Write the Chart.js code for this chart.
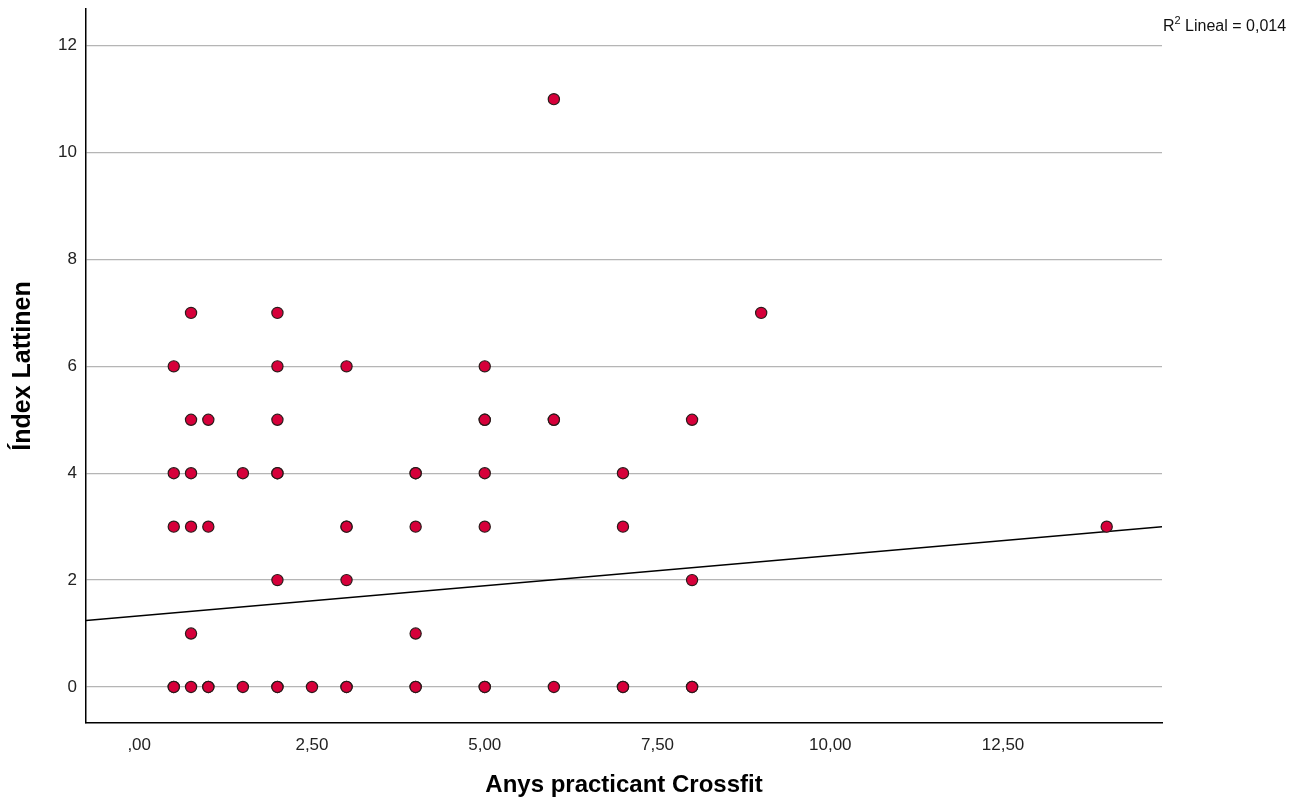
<!DOCTYPE html>
<html>
<head>
<meta charset="utf-8">
<script src="https://cdn.jsdelivr.net/npm/chart.js@4"></script>
<style>
    body { margin: 0; background: #fff; }
    #wrap { width: 1305px; height: 801px; position: relative; }
</style>
</head>
<body>
<div id="wrap"><canvas id="chart"></canvas></div>
<script>
    // Anys practicant Crossfit (x) vs Índex Lattinen (y)
    const anys = [
        0.5, 0.5, 0.5, 0.5, 0.5,
        0.75, 0.75, 0.75, 0.75, 0.75, 0.75,
        1, 1, 1, 1,
        1.5, 1.5,
        2, 2, 2, 2, 2, 2, 2, 2,
        2.5,
        3, 3, 3, 3, 3, 3,
        4, 4, 4, 4, 4, 4,
        5, 5, 5, 5, 5, 5, 5,
        6, 6, 6, 6,
        7, 7, 7, 7,
        8, 8, 8, 8,
        9,
        14
    ];
    const lattinen = [
        6, 4, 3, 0, 0,
        7, 5, 4, 3, 1, 0,
        5, 3, 0, 0,
        4, 0,
        7, 6, 5, 4, 4, 2, 0, 0,
        0,
        6, 3, 3, 2, 0, 0,
        4, 4, 3, 1, 0, 0,
        6, 5, 5, 4, 3, 0, 0,
        11, 5, 5, 0,
        4, 3, 0, 0,
        5, 2, 0, 0,
        7,
        3
    ];

    const xTicks = [0, 2.5, 5, 7.5, 10, 12.5];
    const xTickLabels = [',00', '2,50', '5,00', '7,50', '10,00', '12,50'];
    const yTicks = [0, 2, 4, 6, 8, 10, 12];

    // linear fit
    const fitIntercept = 1.331;
    const fitSlope = 0.1126;
    const r2Text = 'Lineal = 0,014';

    const xMin = -0.77, xMax = 14.8;
    const yMin = -0.674, yMax = 12.687;

    const points = anys.map((x, i) => ({ x: x, y: lattinen[i] }));
    const fitLine = [xMin, xMax].map((x) => ({ x: x, y: fitIntercept + fitSlope * x }));

    const r2Label = {
        id: 'r2Label',
        afterDraw(chart) {
            const ctx = chart.ctx;
            ctx.save();
            ctx.fillStyle = '#111';
            ctx.textBaseline = 'alphabetic';
            ctx.font = '16px "Liberation Sans", Arial, sans-serif';
            let x = 1163;
            const y = 31;
            ctx.fillText('R', x, y);
            x += ctx.measureText('R').width;
            ctx.font = '11px "Liberation Sans", Arial, sans-serif';
            ctx.fillText('2', x, y - 7);
            x += ctx.measureText('2').width;
            ctx.font = '16px "Liberation Sans", Arial, sans-serif';
            ctx.fillText(' ' + r2Text, x, y);
            ctx.restore();
        }
    };

    new Chart(document.getElementById('chart'), {
        type: 'scatter',
        data: {
            datasets: [
                {
                    label: 'Índex Lattinen',
                    data: points,
                    backgroundColor: '#d6003a',
                    borderColor: '#2b1b1b',
                    borderWidth: 1.2,
                    pointRadius: 5.6,
                    pointHoverRadius: 5.6,
                    order: 0
                },
                {
                    type: 'line',
                    label: 'Lineal',
                    data: fitLine,
                    borderColor: '#000',
                    borderWidth: 1.5,
                    pointRadius: 0,
                    fill: false,
                    order: 1
                }
            ]
        },
        options: {
            responsive: true,
            maintainAspectRatio: false,
            animation: false,
            layout: { padding: { top: 9, right: 143, bottom: 0, left: 0 } },
            plugins: {
                legend: { display: false },
                tooltip: { enabled: false }
            },
            scales: {
                x: {
                    type: 'linear',
                    min: xMin,
                    max: xMax,
                    afterBuildTicks: (scale) => { scale.ticks = xTicks.map((v) => ({ value: v })); },
                    afterFit: (scale) => {
                        scale.height = 78;
                        scale.paddingLeft = 0;
                        scale.paddingRight = 0;
                    },
                    ticks: {
                        padding: 12,
                        color: '#222',
                        font: { family: '"Liberation Sans", Arial, sans-serif', size: 17 },
                        callback: (v) => xTickLabels[xTicks.indexOf(v)]
                    },
                    grid: { display: false, drawTicks: false },
                    border: { display: true, color: '#000', width: 1.5 },
                    title: {
                        display: true,
                        text: 'Anys practicant Crossfit',
                        color: '#000',
                        padding: { top: 0, bottom: 1 },
                        font: { family: '"Liberation Sans", Arial, sans-serif', size: 24, weight: 'bold' }
                    }
                },
                y: {
                    type: 'linear',
                    min: yMin,
                    max: yMax,
                    afterBuildTicks: (scale) => { scale.ticks = yTicks.map((v) => ({ value: v })); },
                    afterFit: (scale) => {
                        scale.width = 86;
                        scale.paddingTop = 0;
                        scale.paddingBottom = 0;
                    },
                    ticks: {
                        padding: 9,
                        color: '#222',
                        font: { family: '"Liberation Sans", Arial, sans-serif', size: 17 },
                        callback: (v) => String(v)
                    },
                    grid: { color: '#b5b5b5', lineWidth: 1.3, drawTicks: false },
                    border: { display: true, color: '#000', width: 1.5 },
                    title: {
                        display: true,
                        text: 'Índex Lattinen',
                        color: '#000',
                        padding: { top: 8, bottom: 0 },
                        font: { family: '"Liberation Sans", Arial, sans-serif', size: 25, weight: 'bold' }
                    }
                }
            }
        },
        plugins: [r2Label]
    });
</script>
</body>
</html>
